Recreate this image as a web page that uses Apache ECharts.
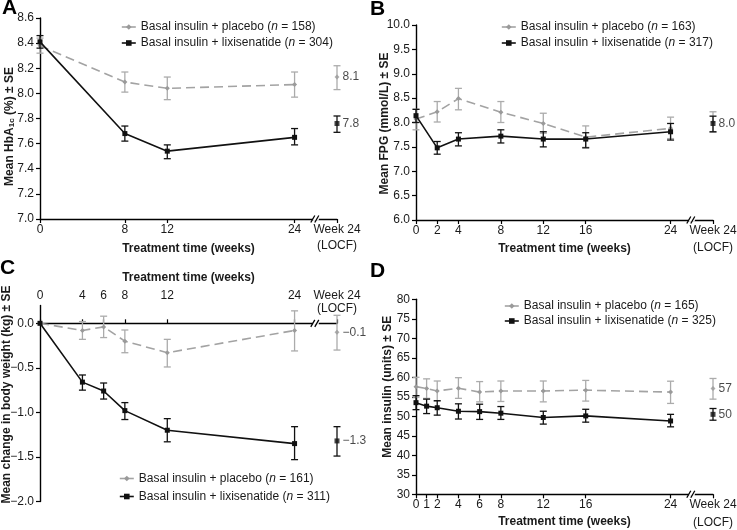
<!DOCTYPE html>
<html><head><meta charset="utf-8">
<script src="https://cdn.jsdelivr.net/npm/echarts@6/dist/echarts.min.js"></script>
<style>html,body{margin:0;padding:0;background:#fff}#c{width:737px;height:530px}</style>
</head><body><div id="c"></div>
<script>
// ---------- shared ----------
const LOCF_X = 28;            // x position used for the "Week 24 (LOCF)" column
const BREAK_X = 26;           // where the axis break mark sits
const LOCF_LABEL = 'Week 24\n(LOCF)';

// ---------- Panel A: HbA1c ----------
const weeksA = [0, 8, 12, 24];
const placeboA = [8.38, 8.09, 8.04, 8.07];
const placeboA_lo = [8.32, 8.01, 7.95, 7.97];
const placeboA_hi = [8.44, 8.17, 8.13, 8.17];
const lixiA = [8.41, 7.68, 7.54, 7.65];
const lixiA_lo = [8.36, 7.62, 7.48, 7.59];
const lixiA_hi = [8.46, 7.74, 7.59, 7.72];
const placeboA_locf = [8.13, 8.03, 8.22];
const lixiA_locf = [7.76, 7.69, 7.82];
const labelsA_locf = ['8.1', '7.8'];
const yTicksA = [7.0, 7.2, 7.4, 7.6, 7.8, 8.0, 8.2, 8.4, 8.6];
const legendA = ['Basal insulin + placebo (n = 158)', 'Basal insulin + lixisenatide (n = 304)'];

// ---------- Panel B: FPG ----------
const weeksB = [0, 2, 4, 8, 12, 16, 24];
const placeboB = [8.07, 8.22, 8.49, 8.21, 7.98, 7.70, 7.88];
const placeboB_lo = [7.85, 8.01, 8.26, 8.00, 7.78, 7.49, 7.67];
const placeboB_hi = [8.27, 8.43, 8.70, 8.43, 8.19, 7.93, 8.11];
const lixiB = [8.14, 7.48, 7.66, 7.72, 7.66, 7.66, 7.81];
const lixiB_lo = [8.00, 7.35, 7.52, 7.58, 7.50, 7.48, 7.64];
const lixiB_hi = [8.27, 7.61, 7.79, 7.85, 7.81, 7.79, 7.98];
const placeboB_locf = [8.01, 7.80, 8.22];
const lixiB_locf = [7.98, 7.81, 8.13];
const labelsB_locf = [null, '8.0'];
const yTicksB = [6.0, 6.5, 7.0, 7.5, 8.0, 8.5, 9.0, 9.5, 10.0];
const legendB = ['Basal insulin + placebo (n = 163)', 'Basal insulin + lixisenatide (n = 317)'];

// ---------- Panel C: body weight change ----------
const weeksC = [0, 4, 6, 8, 12, 24];
const placeboC = [0, -0.08, -0.04, -0.20, -0.33, -0.08];
const placeboC_lo = [null, -0.18, -0.16, -0.33, -0.49, -0.31];
const placeboC_hi = [null, 0.02, 0.08, -0.075, -0.18, 0.14];
const lixiC = [0, -0.66, -0.76, -0.98, -1.20, -1.35];
const lixiC_lo = [null, -0.75, -0.85, -1.08, -1.33, -1.53];
const lixiC_hi = [null, -0.58, -0.67, -0.89, -1.07, -1.16];
const placeboC_locf = [-0.10, -0.30, 0.09];
const lixiC_locf = [-1.32, -1.49, -1.16];
const labelsC_locf = ['\u22120.1', '\u22121.3'];
const yTicksC = [-2.0, -1.5, -1.0, -0.5, 0.0];
const yMaxC = 0.2;
const legendC = ['Basal insulin + placebo (n = 161)', 'Basal insulin + lixisenatide (n = 311)'];

// ---------- Panel D: insulin dose ----------
const weeksD = [0, 1, 2, 4, 6, 8, 12, 16, 24];
const placeboD = [57.6, 57.1, 56.5, 57.2, 56.2, 56.5, 56.5, 56.7, 56.2];
const placeboD_lo = [54.9, 54.6, 53.9, 54.6, 53.7, 53.8, 53.7, 53.9, 53.3];
const placeboD_hi = [60.0, 59.6, 59.05, 59.9, 58.9, 59.05, 59.05, 59.2, 59.0];
const lixiD = [53.5, 52.6, 52.2, 51.3, 51.2, 50.8, 49.7, 50.1, 48.8];
const lixiD_lo = [51.7, 50.7, 50.3, 49.3, 49.2, 49.2, 48.0, 48.5, 47.3];
const lixiD_hi = [55.3, 54.4, 54.0, 53.2, 53.1, 52.5, 51.3, 51.8, 50.5];
const placeboD_locf = [57.1, 54.4, 59.7];
const lixiD_locf = [50.5, 49.0, 52.0];
const labelsD_locf = ['57', '50'];
const yTicksD = [30, 35, 40, 45, 50, 55, 60, 65, 70, 75, 80];
const legendD = ['Basal insulin + placebo (n = 165)', 'Basal insulin + lixisenatide (n = 325)'];

// ---------- styling ----------
const FONT = "'Liberation Sans', Arial, Helvetica, sans-serif";
const TXT = '#1a1a1a';
const GRAY_LINE = '#a3a3a3', GRAY_MK = '#9a9a9a', GRAY_ERR = '#ababab', BLACK = '#111';

const panels = [
  { weeks: weeksA, p: placeboA, pLo: placeboA_lo, pHi: placeboA_hi, l: lixiA, lLo: lixiA_lo, lHi: lixiA_hi,
    pL: placeboA_locf, lL: lixiA_locf, locfLabels: labelsA_locf, yTicks: yTicksA, yMax: null, legend: legendA,
    grid: { left: 40, top: 18, width: 297, height: 201 },
    yName: 'Mean HbA{sub|1c} (%) \u00b1 SE', yNameGap: 24, yNamePad: [0, 16, 0, 0],
    yFmt: v => v.toFixed(1), xTop: false, xLabelLH: 16, xLabelMargin: 3, xNameGap: 24,
    legendPos: { left: 121, top: 21, itemGap: 4 }, letter: 'A', letterPos: [2, -2] },
  { weeks: weeksB, p: placeboB, pLo: placeboB_lo, pHi: placeboB_hi, l: lixiB, lLo: lixiB_lo, lHi: lixiB_hi,
    pL: placeboB_locf, lL: lixiB_locf, locfLabels: labelsB_locf, yTicks: yTicksB, yMax: null, legend: legendB,
    grid: { left: 416, top: 25, width: 297, height: 195 },
    yName: 'Mean FPG (mmol/L) \u00b1 SE', yNameGap: 25, yNamePad: [0, 2, 0, 0],
    yFmt: v => v.toFixed(1), xTop: false, xLabelLH: 17, xLabelMargin: 2, xNameGap: 23,
    legendPos: { left: 501, top: 21, itemGap: 4 }, letter: 'B', letterPos: [370, -1] },
  { weeks: weeksC, p: placeboC, pLo: placeboC_lo, pHi: placeboC_hi, l: lixiC, lLo: lixiC_lo, lHi: lixiC_hi,
    pL: placeboC_locf, lL: lixiC_locf, locfLabels: labelsC_locf, yTicks: yTicksC, yMax: yMaxC, legend: legendC,
    grid: { left: 40, top: 305.5, width: 297, height: 196 },
    yName: 'Mean change in body weight (kg) \u00b1 SE', yNameGap: 27, yNamePad: [0, 0, 0, 18],
    yFmt: v => (Math.abs(v) < 1e-9 ? '0.0' : '\u2212' + Math.abs(v).toFixed(1)), xTop: true, xLabelLH: 13.5, xLabelMargin: -10, xNameGap: 22,
    legendPos: { left: 119, top: 472.5, itemGap: 6 }, letter: 'C', letterPos: [0, 258] },
  { weeks: weeksD, p: placeboD, pLo: placeboD_lo, pHi: placeboD_hi, l: lixiD, lLo: lixiD_lo, lHi: lixiD_hi,
    pL: placeboD_locf, lL: lixiD_locf, locfLabels: labelsD_locf, yTicks: yTicksD, yMax: null, legend: legendD,
    grid: { left: 416, top: 299.3, width: 297, height: 195 },
    yName: 'Mean insulin (units) \u00b1 SE', yNameGap: 22, yNamePad: [0, 0, 0, 20],
    yFmt: v => String(v), xTop: false, xLabelLH: 18, xLabelMargin: 1, xNameGap: 21,
    legendPos: { left: 504, top: 300, itemGap: 3 }, letter: 'D', letterPos: [370, 261] }
];
const xTickSets = [weeksA, weeksB, weeksC, weeksD];

function errRender(color, capHalf, width) {
  return function (params, api) {
    const x = api.value(0), lo = api.value(1), hi = api.value(2);
    const a = api.coord([x, lo]), b = api.coord([x, hi]);
    const st = { stroke: color, lineWidth: width };
    return { type: 'group', children: [
      { type: 'line', shape: { x1: a[0], y1: a[1], x2: b[0], y2: b[1] }, style: st },
      { type: 'line', shape: { x1: a[0] - capHalf, y1: a[1], x2: a[0] + capHalf, y2: a[1] }, style: st },
      { type: 'line', shape: { x1: b[0] - capHalf, y1: b[1], x2: b[0] + capHalf, y2: b[1] }, style: st }
    ]};
  };
}
function breakRender(params, api) {
  const c = api.coord([api.value(0), api.value(1)]);
  const st = { stroke: '#000', lineWidth: 1.3 };
  return { type: 'group', children: [
    { type: 'rect', shape: { x: c[0] - 3, y: c[1] - 1.5, width: 6, height: 3 }, style: { fill: '#fff' } },
    { type: 'line', shape: { x1: c[0] - 5, y1: c[1] + 3.5, x2: c[0] - 1, y2: c[1] - 3.5 }, style: st },
    { type: 'line', shape: { x1: c[0] - 1, y1: c[1] + 3.5, x2: c[0] + 3, y2: c[1] - 3.5 }, style: st }
  ]};
}

const grids = [], xAxes = [], yAxes = [], series = [], legends = [], titles = [];
panels.forEach((P, i) => {
  grids.push(Object.assign({ outerBoundsMode: 'none', containLabel: false }, P.grid));
  const xVals = xTickSets[i].concat([LOCF_X]);
  xAxes.push({
    type: 'value', gridIndex: i, min: 0, max: LOCF_X, position: P.xTop ? 'top' : 'bottom',
    axisLine: { show: true, onZero: P.xTop, lineStyle: { color: '#000', width: 1.4 } },
    axisTick: { show: true, length: 4, customValues: xVals, lineStyle: { color: '#000', width: 1.2 } },
    axisLabel: { customValues: xVals, color: TXT, fontSize: 12, fontFamily: FONT, margin: P.xLabelMargin,
      lineHeight: P.xLabelLH,
      formatter: v => (v === LOCF_X ? LOCF_LABEL : (P.xTop ? v + '\n ' : String(v))) },
    splitLine: { show: false },
    name: 'Treatment time (weeks)', nameLocation: 'middle', nameGap: P.xNameGap, nameMoveOverlap: false,
    nameTextStyle: { fontWeight: 'bold', fontSize: 12, color: TXT, fontFamily: FONT }
  });
  const yMin = P.yTicks[0];
  const yMax = P.yMax != null ? P.yMax : P.yTicks[P.yTicks.length - 1];
  yAxes.push({
    type: 'value', gridIndex: i, min: yMin, max: yMax,
    axisLine: { show: true, onZero: false, lineStyle: { color: '#000', width: 1.4 } },
    axisTick: { show: true, length: 4, customValues: P.yTicks, lineStyle: { color: '#000', width: 1.2 } },
    axisLabel: { customValues: P.yTicks, color: TXT, fontSize: 12, fontFamily: FONT, margin: 6, formatter: P.yFmt },
    splitLine: { show: false },
    name: P.yName, nameLocation: 'middle', nameGap: P.yNameGap, nameMoveOverlap: false,
    nameTextStyle: { fontWeight: 'bold', fontSize: 12, color: TXT, fontFamily: FONT, padding: P.yNamePad,
      rich: { sub: { fontSize: 8, fontWeight: 'bold', fontFamily: FONT, color: TXT, verticalAlign: 'bottom', padding: [5, 0, 0, 0] } } }
  });
  const pData = P.weeks.map((w, k) => [w, P.p[k]]);
  const lData = P.weeks.map((w, k) => [w, P.l[k]]);
  const pErr = P.weeks.map((w, k) => [w, P.pLo[k], P.pHi[k]]).filter(d => d[1] != null);
  const lErr = P.weeks.map((w, k) => [w, P.lLo[k], P.lHi[k]]).filter(d => d[1] != null);
  const ax = { xAxisIndex: i, yAxisIndex: i };
  series.push(Object.assign({ type: 'custom', silent: true, z: 2, renderItem: errRender(GRAY_ERR, 3.5, 1.3),
    encode: { x: 0, y: [1, 2] }, data: pErr.concat([[LOCF_X, P.pL[1], P.pL[2]]]) }, ax));
  series.push(Object.assign({ type: 'line', name: P.legend[0], data: pData, z: 3, silent: true,
    symbol: 'diamond', symbolSize: 5, showSymbol: true,
    lineStyle: { color: GRAY_LINE, width: 1.6, type: [9, 5] }, itemStyle: { color: GRAY_MK } }, ax));
  series.push(Object.assign({ type: 'scatter', data: [[LOCF_X, P.pL[0]]], z: 3, silent: true,
    symbol: 'diamond', symbolSize: 5, itemStyle: { color: GRAY_MK },
    label: { show: P.locfLabels[0] != null, formatter: () => P.locfLabels[0] || '', position: 'right', distance: 3,
      color: TXT, fontSize: 12, fontFamily: FONT } }, ax));
  series.push(Object.assign({ type: 'custom', silent: true, z: 4, renderItem: errRender(BLACK, 3.5, 1.3),
    encode: { x: 0, y: [1, 2] }, data: lErr.concat([[LOCF_X, P.lL[1], P.lL[2]]]) }, ax));
  series.push(Object.assign({ type: 'line', name: P.legend[1], data: lData, z: 5, silent: true,
    symbol: 'rect', symbolSize: 5, showSymbol: true,
    lineStyle: { color: BLACK, width: 1.6 }, itemStyle: { color: BLACK } }, ax));
  series.push(Object.assign({ type: 'scatter', data: [[LOCF_X, P.lL[0]]], z: 5, silent: true,
    symbol: 'rect', symbolSize: 5, itemStyle: { color: BLACK },
    label: { show: P.locfLabels[1] != null, formatter: () => P.locfLabels[1] || '', position: 'right', distance: 3,
      color: TXT, fontSize: 12, fontFamily: FONT } }, ax));
  series.push(Object.assign({ type: 'custom', silent: true, z: 6, renderItem: breakRender,
    data: [[BREAK_X, P.xTop ? 0 : yMin]] }, ax));
  legends.push({
    data: P.legend, orient: 'vertical', left: P.legendPos.left, top: P.legendPos.top, itemGap: P.legendPos.itemGap,
    itemWidth: 14, itemHeight: 7, padding: 0, selectedMode: false,
    lineStyle: { type: 'solid', width: 1.6 },
    textStyle: { fontSize: 12, color: TXT, fontFamily: FONT,
      rich: { i: { fontStyle: 'italic', fontSize: 12, color: TXT, fontFamily: FONT } } },
    formatter: n => n.replace('(n =', '({i|n} =')
  });
  titles.push({ text: P.letter, left: P.letterPos[0], top: P.letterPos[1], padding: 0,
    textStyle: { fontSize: 21, fontWeight: 'bold', color: '#000', fontFamily: FONT } });
});

const chart = echarts.init(document.getElementById('c'), null, { renderer: 'canvas' });
chart.setOption({
  animation: false,
  backgroundColor: '#fff',
  title: titles,
  grid: grids, xAxis: xAxes, yAxis: yAxes, legend: legends, series: series
});
</script></body></html>
